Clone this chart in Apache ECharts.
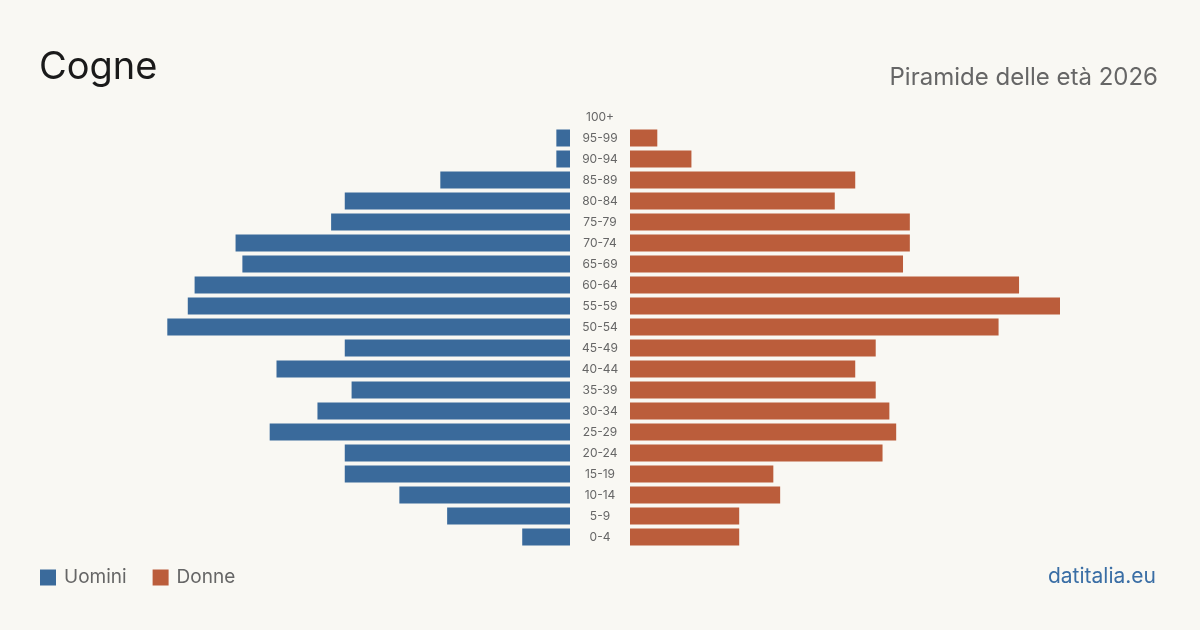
<!DOCTYPE html>
<html>
<head>
<meta charset="utf-8">
<style>
html,body{margin:0;padding:0;background:#f9f8f3;}
#chart{width:1200px;height:630px;}
</style>
<script src="https://cdn.jsdelivr.net/npm/echarts@6/dist/echarts.min.js"></script>
</head>
<body>
<div id="chart"></div>
<script>
const ageGroups = ['0-4','5-9','10-14','15-19','20-24','25-29','30-34','35-39','40-44','45-49','50-54','55-59','60-64','65-69','70-74','75-79','80-84','85-89','90-94','95-99','100+'];
const men   = [7,18,25,33,33,44,37,32,43,33,59,56,55,48,49,35,33,19,2,2,0];
const women = [16,16,22,21,37,39,38,36,33,36,54,63,57,40,41,41,30,33,9,4,0];
const legendNames = ['Uomini','Donne'];
const titleText = 'Cogne';
const subtitleText = 'Piramide delle età 2026';
const sourceText = 'datitalia.eu';

const BLUE = '#3a6a9b', ORANGE = '#bb5d3b';
const font = 'Inter, "Noto Sans", sans-serif';
const maxVal = Math.max(...men, ...women);

const chart = echarts.init(document.getElementById('chart'));
chart.setOption({
  backgroundColor: '#f9f8f3',
  animation: false,
  title: [
    {text: titleText, left: 34, top: 44, textStyle: {fontFamily: font, fontSize: 38, fontWeight: 'normal', color: '#1a1a1a'}},
    {text: subtitleText, right: 37, top: 61, textStyle: {fontFamily: font, fontSize: 24, fontWeight: 'normal', color: '#666666'}},
    {text: sourceText, right: 39, top: 561, textStyle: {fontFamily: font, fontSize: 21, fontWeight: 'normal', color: '#3a6ea5'}}
  ],
  legend: {
    left: 40, top: 568, padding: 0, icon: 'rect', itemWidth: 16, itemHeight: 16, itemGap: 26,
    data: legendNames,
    textStyle: {fontFamily: font, fontSize: 19, color: '#666666', padding: [0,0,0,3]}
  },
  grid: [
    {left: 140, width: 430, top: 106.5, height: 441},
    {left: 630, width: 430, top: 106.5, height: 441}
  ],
  xAxis: [
    {gridIndex: 0, type: 'value', min: 0, max: maxVal, inverse: true, show: false},
    {gridIndex: 1, type: 'value', min: 0, max: maxVal, show: false}
  ],
  yAxis: [
    {gridIndex: 0, type: 'category', data: ageGroups, position: 'right',
     axisLine: {show: false}, axisTick: {show: false}, splitLine: {show: false},
     axisLabel: {align: 'center', margin: 30, fontFamily: font, fontSize: 12, color: '#666666'}},
    {gridIndex: 1, type: 'category', data: ageGroups, show: false}
  ],
  series: [
    {name: legendNames[0], type: 'bar', xAxisIndex: 0, yAxisIndex: 0, data: men, barWidth: 17, itemStyle: {color: BLUE}},
    {name: legendNames[1], type: 'bar', xAxisIndex: 1, yAxisIndex: 1, data: women, barWidth: 17, itemStyle: {color: ORANGE}}
  ]
});
</script>
</body>
</html>
